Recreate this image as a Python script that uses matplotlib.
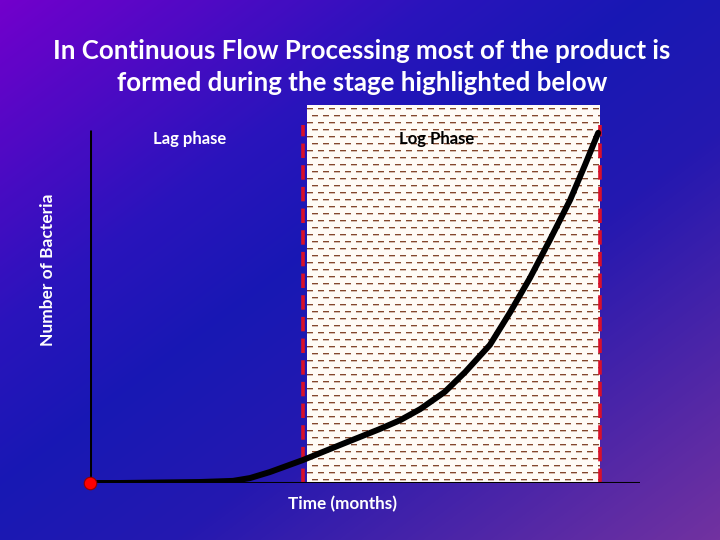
import numpy as np
import matplotlib
matplotlib.use("Agg")
import matplotlib.pyplot as plt
from matplotlib.colors import LinearSegmentedColormap

# ---- data (arbitrary units) ----
time = [0.0, 0.55, 2.0, 2.6, 2.91, 3.27, 3.87, 4.55, 5.27, 5.64, 6.0, 6.45, 6.82, 7.27,
        7.64, 8.0, 8.36, 8.73, 9.0, 9.24]
bacteria = [0.0, 0.0, 0.28, 0.6, 1.4, 3.1, 6.5, 10.8, 15.3, 17.8, 20.9, 25.8, 31.4, 39.1,
            48.4, 58.1, 68.8, 80.2, 90.1, 99.2]
log_start = 3.87
log_end = 9.27
title = "In Continuous Flow Processing most of the product is\nformed during the stage highlighted below"
xlabel = "Time (months)"
ylabel = "Number of Bacteria"
phase_labels = ["Lag phase", "Log Phase"]

W, H = 720, 540
fig = plt.figure(figsize=(7.2, 5.4), dpi=100)

# background gradient
bg = fig.add_axes([0, 0, 1, 1], zorder=0)
bg.set_axis_off()
yy, xx = np.mgrid[0:H, 0:W]
t = (xx / W + yy / H) / 2.0
stops = [(0.0, "#7200cc"), (0.30, "#2a14bc"), (0.45, "#1818b4"), (0.62, "#2418b0"), (1.0, "#7232a0")]
cmap = LinearSegmentedColormap.from_list("bgc", stops)
bg.imshow(t, cmap=cmap, vmin=0, vmax=1, aspect="auto", extent=[0, 1, 0, 1], interpolation="bilinear")
bg.set_xlim(0, 1); bg.set_ylim(0, 1)

# main axes: pixel x 90..640, y 105..483 (top-origin)
left, right, top, bottom = 90, 640, 105, 483
ax = fig.add_axes([left / W, (H - bottom) / H, (right - left) / W, (bottom - top) / H], zorder=1)
ax.set_facecolor("none")
for s in ax.spines.values():
    s.set_visible(False)
ax.set_xticks([]); ax.set_yticks([])
px_per_y = 353 / 100.0
ytop = (bottom - top) / px_per_y

# hatched log phase region built as a pixel pattern
x0px = left + log_start / 10 * (right - left) + 4
x1px = left + log_end / 10 * (right - left)
wpx = int(round(x1px - x0px)); hpx = bottom - top
paper = np.array([1.0, 0.985, 0.965])
pat = np.ones((hpx, wpx, 3)) * paper
dash = np.array([0.52, 0.28, 0.18])
period, dlen, rowsp = 11, 6, 7
for r, yrow in enumerate(range(3, hpx - 1, rowsp)):
    off = 0 if r % 2 == 0 else period // 2
    for xs in range(off - period, wpx, period):
        a, b = max(xs, 0), min(xs + dlen, wpx)
        if b > a:
            pat[yrow:yrow + 1, a:b] = dash
            pat[yrow + 1:yrow + 2, a:b] = 0.35 * dash + 0.65 * paper
ax.imshow(pat, extent=[(x0px - left) / (right - left) * 10, log_end, 0, ytop],
          aspect="auto", interpolation="nearest", zorder=1)
ax.set_xlim(0, 10); ax.set_ylim(0, ytop)

# axis lines
ax.plot([0, 10], [0, 0], color="black", lw=2.2, zorder=3, solid_capstyle="butt")
ax.plot([0, 0], [0, 100], color="black", lw=2.2, zorder=3, solid_capstyle="butt")

# red dashed boundaries
for xv in (log_start, log_end):
    ax.plot([xv, xv], [0, 101.5], color="#d8102a", lw=2.6, ls=(0, (4, 2)), zorder=2)

# growth curve
ax.plot(time, bacteria, color="black", lw=4.3, zorder=4, solid_capstyle="round",
        solid_joinstyle="round")
ax.plot([0], [0], "o", color="#ff0000", mec="#900000", mew=0.8, ms=9, zorder=5, clip_on=False)

fam = ["Lato", "DejaVu Sans"]
fig.text(362 / W, 1 - 67 / H, title, ha="center", va="center", color="white",
         fontsize=18.6, fontweight="bold", family=fam, linespacing=1.42)
fig.text(190 / W, 1 - 139 / H, phase_labels[0], ha="center", va="center", color="white",
         fontsize=12, fontweight="bold", family=fam)
fig.text(437 / W, 1 - 139 / H, phase_labels[1], ha="center", va="center", color="black",
         fontsize=12, fontweight="bold", family=fam)
fig.text(343 / W, 1 - 504 / H, xlabel, ha="center", va="center", color="white",
         fontsize=12.3, fontweight="bold", family=fam)
fig.text(48 / W, 1 - 270 / H, ylabel, ha="center", va="center", color="white",
         fontsize=12.5, fontweight="bold", family=fam, rotation=90)

fig.savefig("out.png", dpi=100)
